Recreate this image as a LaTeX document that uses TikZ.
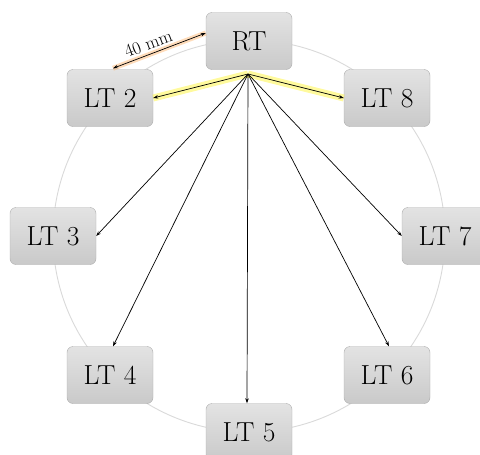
\documentclass[tikz,border=0pt]{standalone}
\usepackage{fontspec}
\setmainfont{Latin Modern Roman}
\usetikzlibrary{arrows.meta}
\begin{document}
\begin{tikzpicture}[x=1pt,y=-1pt,
  ltbox/.style={draw=gray!65, rounded corners=6pt, top color=gray!22, bottom color=gray!42,
    minimum width=86pt, minimum height=57pt, inner sep=0pt,
    font=\fontsize{27.5}{30}\selectfont},
  link/.style={draw=black, line width=0.7pt, -{Stealth[length=5pt,width=3.5pt]}},
  glowy/.style={draw=yellow!70, line width=7pt, opacity=0.55},
  glowo/.style={draw=orange!60, line width=5pt, opacity=0.45},
  ring/.style={draw=gray!30, line width=0.9pt}
]
\useasboundingbox (0,0) rectangle (480,455);
\coordinate (c) at (249,236);
\draw[ring] (c) circle (196pt);
\node[ltbox] (RT) at (249,41) {RT};
\node[ltbox] (LT2) at (110,98) {LT 2};
\node[ltbox] (LT8) at (387,98) {LT 8};
\node[ltbox] (LT3) at (53,236) {LT 3};
\node[ltbox] (LT7) at (445,236) {LT 7};
\node[ltbox] (LT4) at (110,375) {LT 4};
\node[ltbox] (LT6) at (387,375) {LT 6};
\node[ltbox] (LT5) at (249,432) {LT 5};
\coordinate (src) at (248,74);
\coordinate (m1) at ([xshift=3pt,yshift=1pt]LT2.north);
\coordinate (m2) at ([yshift=8pt]RT.west);
% glows
\draw[glowy] (src) -- (LT2.east);
\draw[glowy] (src) -- (LT8.west);
\draw[glowo] (m1) -- (m2);
% links
\draw[link] (src) -- (LT2.east);
\draw[link] (src) -- (LT8.west);
\draw[link] (src) -- (LT3.east);
\draw[link] (src) -- (LT7.west);
\draw[link] (src) -- ([xshift=3pt]LT4.north);
\draw[link] (src) -- ([xshift=2pt]LT6.north);
\draw[link] (src) -- ([xshift=-2pt]LT5.north);
\draw[draw=black, line width=0.7pt, {Stealth[length=5pt,width=3.5pt]}-{Stealth[length=5pt,width=3.5pt]}] (m1) -- node[above=3pt, sloped, inner sep=1pt, pos=0.42, font=\fontsize{18}{19}\selectfont] (lab) {40 mm} (m2);
\end{tikzpicture}
\end{document}
